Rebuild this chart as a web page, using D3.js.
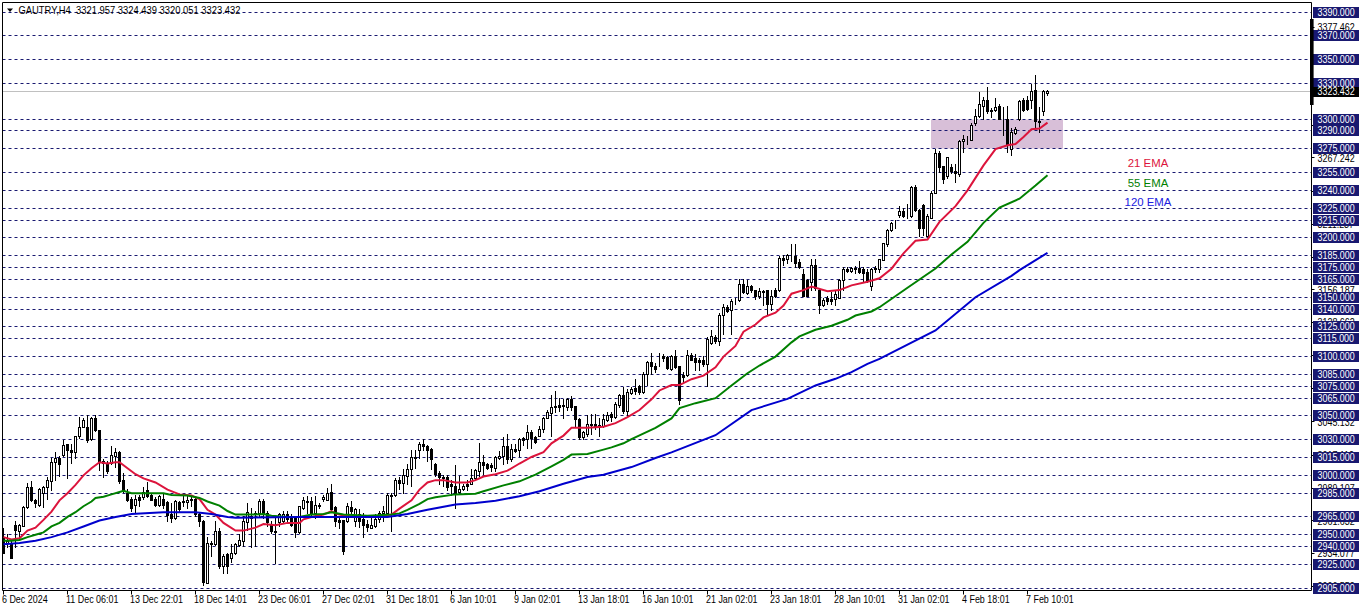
<!DOCTYPE html>
<html><head><meta charset="utf-8">
<script src="https://cdnjs.cloudflare.com/ajax/libs/d3/7.8.5/d3.min.js"></script>
<style>html,body{margin:0;padding:0;background:#fff;overflow:hidden}svg{display:block}text{font-family:"Liberation Sans",Arial,sans-serif}</style>
</head><body><svg id="c" width="1362" height="611"></svg>
<script>
const title = "GAUTRY,H4  3321.957 3324.439 3320.051 3323.432";
const timeLabels = ["6 Dec 2024","11 Dec 06:01","13 Dec 22:01","18 Dec 14:01","23 Dec 06:01","27 Dec 02:01","31 Dec 18:01","6 Jan 10:01","9 Jan 02:01","13 Jan 18:01","16 Jan 10:01","21 Jan 02:01","23 Jan 18:01","28 Jan 10:01","31 Jan 02:01","4 Feb 18:01","7 Feb 10:01"];
const levels = [3390,3370,3350,3330,3300,3290,3275,3255,3240,3225,3215,3200,3185,3175,3165,3150,3140,3125,3115,3100,3085,3075,3065,3050,3030,3015,3000,2985,2965,2950,2940,2925,2905];
const axisTicks = [3377.462,3349.912,3322.352,3294.802,3267.242,3239.232,3211.237,3183.702,3156.187,3128.662,3100.657,3073.132,3045.132,3017.112,2989.107,2961.632,2934.077,2906.552];
const lastPrice = 3323.432;
const zoneLow = 3275, zoneHigh = 3300;
const zoneBars = [232, 265];
const emaLabels = ["21 EMA","55 EMA","120 EMA"];
const emaLabelPrices = [3263,3246.2,3229.8];
const opens = [2947,2943,2943,2958,2953,2957,2973,2990,2979,2975,
2985,2990,2995,3011,3014,3017,3026,3021,3019,3033,
3040,3040,3030,3048,3038,3012,3009,3010,3016,3019,
2996,2985,2980,2975,2981,2981,2987,2983,2980,2975,
2980,2977,2967,2964,2977,2977,2977,2979,2980,2967,
2961,2909,2942,2942,2953,2923,2933,2930,2934,2941,
2944,2960,2964,2967,2968,2978,2968,2958,2953,2960,
2961,2967,2964,2964,2952,2972,2978,2978,2968,2975,
2980,2979,2986,2973,2962,2962,2961,2973,2961,2967,
2963,2959,2955,2957,2963,2968,2968,2983,2983,2996,
2993,2999,3005,3015,3021,3026,3024,3022,3009,3002,
2998,2998,2992,2991,2986,2988,2992,2992,2997,3003,
3011,3009,3008,3006,3014,3016,3024,3013,3022,3021,
3031,3030,3036,3032,3033,3039,3048,3052,3058,3059,
3059,3057,3064,3058,3047,3032,3034,3043,3043,3042,
3041,3046,3051,3049,3059,3067,3054,3069,3073,3075,
3070,3085,3095,3092,3100,3100,3099,3089,3100,3092,
3084,3084,3101,3098,3097,3097,3093,3111,3116,3113,
3135,3141,3139,3147,3147,3161,3153,3159,3156,3151,
3155,3156,3144,3156,3156,3183,3182,3185,3184,3179,
3169,3164,3162,3177,3156,3143,3149,3148,3148,3149,
3164,3173,3172,3174,3174,3173,3171,3159,3174,3173,
3181,3194,3206,3212,3219,3222,3219,3218,3242,3223,
3227,3201,3216,3237,3271,3260,3252,3259,3256,3253,
3281,3282,3282,3296,3302,3311,3316,3307,3307,3311,
3300,3300,3274,3288,3300,3316,3316,3316,3324,3298,
3306,3321.957];
const highs = [2955,2950,2946,2961,2959,2974,2993,2995,2980,2989,
2991,2998,3014,3019,3016,3029,3026,3026,3033,3049,
3048,3050,3049,3050,3038,3013,3012,3024,3023,3020,
3002,2988,2981,2983,2983,2990,2994,2984,2981,2983,
2985,2978,2976,2979,2978,2982,2982,2982,2982,2968,
2962,2948,2944,2961,2955,2933,2934,2942,2943,2950,
2965,2976,2972,2970,2980,2980,2970,2961,2964,2968,
2970,2970,2967,2965,2974,2981,2982,2981,2982,2976,
2983,2989,2992,2974,2965,2962,2976,2978,2972,2971,
2968,2962,2965,2967,2970,2974,2985,2985,2997,2998,
3005,3009,3021,3021,3028,3030,3025,3023,3010,3003,
3000,3000,2996,3008,2999,2992,2996,3005,3005,3027,
3017,3010,3010,3016,3020,3032,3034,3026,3026,3031,
3032,3042,3038,3033,3041,3049,3055,3067,3071,3065,
3064,3065,3066,3058,3048,3037,3050,3051,3051,3048,
3051,3053,3053,3061,3068,3074,3072,3074,3081,3076,
3087,3096,3103,3094,3103,3102,3100,3101,3105,3092,
3087,3105,3103,3102,3098,3100,3116,3122,3118,3136,
3144,3143,3148,3149,3165,3165,3164,3160,3156,3157,
3156,3156,3156,3157,3184,3185,3186,3194,3194,3182,
3173,3165,3182,3182,3157,3149,3151,3154,3156,3165,
3175,3175,3175,3176,3180,3175,3173,3174,3176,3182,
3195,3207,3213,3215,3226,3225,3228,3243,3244,3224,
3228,3220,3239,3274,3273,3260,3268,3262,3262,3282,
3286,3285,3296,3308,3322,3318,3327,3309,3317,3312,
3310,3311,3292,3293,3316,3317,3319,3329,3337,3310,
3324,3324.439];
const lows = [2934,2939,2930,2939,2946,2957,2972,2978,2973,2974,
2973,2980,2987,2996,2999,3016,2997,3010,3014,3031,
3040,3028,3029,3037,3004,2998,3002,3009,3007,2993,
2986,2978,2970,2969,2974,2980,2981,2979,2974,2974,
2972,2961,2960,2963,2969,2974,2972,2974,2965,2957,
2907,2909,2932,2941,2922,2917,2917,2927,2933,2940,
2940,2954,2939,2940,2965,2964,2957,2951,2926,2957,
2960,2960,2957,2948,2951,2971,2968,2965,2964,2972,
2978,2979,2969,2957,2955,2933,2960,2967,2957,2956,
2948,2953,2955,2956,2960,2961,2967,2953,2982,2988,
2985,2992,2991,3006,3014,3021,3012,3005,2999,2992,
2991,2987,2983,2972,2985,2987,2987,2992,2996,2999,
3001,3005,3003,3003,3013,3009,3010,3012,3019,3016,
3025,3023,3023,3027,3033,3036,3048,3033,3053,3054,
3048,3055,3055,3041,3030,3030,3033,3034,3039,3033,
3040,3045,3045,3048,3057,3052,3049,3068,3068,3068,
3069,3076,3085,3087,3092,3096,3089,3088,3090,3060,
3078,3083,3097,3088,3088,3092,3075,3110,3111,3109,
3119,3137,3119,3144,3146,3153,3152,3154,3148,3149,
3143,3135,3139,3150,3155,3177,3178,3180,3175,3174,
3151,3151,3156,3156,3136,3142,3144,3144,3143,3149,
3156,3171,3171,3170,3170,3162,3162,3156,3171,3171,
3181,3193,3205,3208,3217,3217,3216,3217,3222,3201,
3202,3201,3216,3237,3255,3246,3250,3254,3247,3252,
3272,3279,3282,3295,3301,3300,3305,3301,3306,3300,
3286,3272,3269,3287,3299,3306,3307,3309,3293,3289,
3303,3320.051];
const closes = [2934,2944,2930,2954,2958,2973,2990,2979,2976,2988,
2990,2996,3011,3014,3009,3025,3021,3019,3033,3040,
3046,3029,3048,3038,3012,3010,3003,3017,3019,2995,
2987,2979,2972,2980,2979,2986,2982,2979,2975,2982,
2975,2966,2964,2978,2971,2978,2979,2980,2967,2961,
2910,2943,2943,2953,2923,2932,2923,2934,2942,2945,
2961,2969,2965,2968,2978,2968,2960,2953,2952,2967,
2967,2963,2958,2952,2974,2979,2977,2967,2975,2974,
2981,2985,2971,2961,2960,2936,2974,2970,2971,2961,
2958,2956,2958,2963,2968,2970,2983,2982,2996,2993,
3000,3005,3015,3014,3026,3024,3021,3013,3001,2998,
2997,2990,2991,2985,2988,2991,2991,2997,3004,3011,
3008,3006,3007,3015,3016,3024,3013,3022,3020,3030,
3029,3036,3031,3028,3039,3048,3053,3057,3057,3057,
3058,3064,3057,3047,3032,3036,3043,3042,3041,3040,
3047,3050,3049,3060,3067,3054,3070,3072,3071,3070,
3085,3095,3092,3089,3100,3098,3090,3100,3091,3063,
3082,3101,3097,3095,3095,3093,3114,3117,3113,3135,
3141,3138,3146,3147,3161,3154,3159,3156,3151,3155,
3154,3144,3151,3151,3183,3181,3185,3185,3178,3175,
3151,3151,3177,3157,3143,3147,3146,3146,3152,3164,
3173,3172,3174,3173,3171,3170,3163,3173,3173,3182,
3195,3206,3212,3212,3222,3218,3219,3242,3223,3208,
3208,3218,3237,3271,3259,3249,3268,3256,3254,3281,
3283,3282,3295,3302,3312,3316,3306,3306,3310,3300,
3300,3278,3289,3291,3315,3307,3308,3323,3298,3297,
3323,3323.432];
const ema21Bars = [0,2,4,6,8,10,12,14,16,18,20,22,24,26,28,29,31,33,35,38,41,44,47,49,51,53,55,58,60,63,65,68,71,74,75,77,80,82,83,85,89,93,97,99,102,104,106,108,110,113,116,118,120,123,126,129,132,135,137,140,142,146,150,153,156,159,162,164,167,169,172,175,178,180,183,185,188,190,193,195,197,200,202,206,209,212,216,219,222,225,228,231,234,238,241,245,248,251,253,255,257,259,261];
const ema21Values = [2948,2946,2947,2953.5,2956,2962.5,2969.5,2979,2985,2992,3000,3006,3011,3010,3011,3011,3006,3001,2997.5,2994,2988,2984,2983,2980,2971,2967,2960,2953.5,2953.5,2956,2959,2958,2960,2960,2963,2965,2967,2970,2968,2966,2965,2965,2967,2972,2979,2988,2994,2996,2996,2994,2994,2996,2999,3001,3004,3010,3015.5,3019.5,3027,3033.5,3040,3040,3041,3044,3049,3055,3064,3071.5,3076,3076,3081,3084,3091,3100,3109,3121,3127,3133,3137,3143,3153,3156,3159,3155,3156,3160,3163,3166,3174,3187,3197.5,3198.6,3213.5,3226.7,3240,3261,3274.7,3278,3279,3285,3291.5,3292,3297];
const ema55Bars = [0,2,4,6,8,10,12,14,16,18,20,22,23,25,27,29,30,32,36,40,42,46,49,51,54,56,58,63,65,67,71,74,77,80,82,85,91,97,99,101,104,106,108,113,118,120,125,129,133,137,140,142,146,150,152,155,157,159,163,167,169,173,178,182,186,189,193,197,199,203,207,211,213,217,219,226,233,237,241,245,249,254,258,261];
const ema55Values = [2945,2945,2945.6,2948,2950,2952,2957,2960,2965,2969,2974,2978,2981,2982,2984,2986,2987,2985,2985,2985,2983.5,2983,2981,2978,2974.5,2970,2967,2967,2967.5,2966,2965,2965,2967,2967.5,2969,2967,2966,2967,2968,2971,2976,2980,2981.5,2984,2984.6,2986.6,2991.6,2995,3000.6,3007.6,3013,3017.5,3018,3021.7,3023.6,3027,3030.6,3033.7,3040,3048,3056.6,3060.8,3065,3075.7,3086,3092.5,3100,3112,3117,3122.6,3126,3131,3134.6,3138,3141.6,3158,3174.2,3186,3196.6,3212.6,3225.5,3233,3244,3252.8];
const ema120Bars = [0,4,8,12,16,20,24,28,32,40,48,52,56,58,74,96,101,106,113,118,123,129,134,140,146,150,157,163,167,178,187,196,203,208,212,216,219,233,243,252,254,261];
const ema120Values = [2942,2943,2945,2948,2952,2957,2962,2965,2967.5,2969,2969,2967.5,2965,2964.4,2965,2965,2967.5,2971,2975.4,2976.8,2978.7,2982.4,2986.6,2993,2998.6,3000.6,3007,3014.6,3019.4,3033.8,3055,3064.4,3075.7,3081.3,3086.9,3093.9,3098.1,3122,3150,3168,3172.8,3187.4];
const emaColors = ["#dc143c","#008000","#0000cd"];
const emaLabelColors = ["#dc143c","#008000","#2020e0"];

const svg = d3.select("#c");
const x = d3.scaleLinear().domain([0,261]).range([3.5,1047.5]);
const y = d3.scaleLinear().domain([2905,3390]).range([588.2,12.2]);
const crisp = v => Math.floor(v)+0.5;
const L = 2.5, R = 1311.5, B = 590.5, T = 2.5;
const TEXT_SX = 0.85, FS = 10.5;

// highlighted zone
svg.append("rect").attr("x",x(zoneBars[0])-0.5).attr("width",x(zoneBars[1])-x(zoneBars[0]))
  .attr("y",crisp(y(zoneHigh))).attr("height",crisp(y(zoneLow))-crisp(y(zoneHigh))).attr("fill","#d8bfd8");

// current price line
svg.append("line").attr("x1",L).attr("x2",R).attr("y1",crisp(y(lastPrice))).attr("y2",crisp(y(lastPrice))).attr("stroke","#c0c0c0");

// dashed levels
svg.append("g").selectAll("line").data(levels).join("line")
  .attr("x1",L).attr("x2",R).attr("y1",d=>crisp(y(d))).attr("y2",d=>crisp(y(d)))
  .attr("stroke","#191970").attr("stroke-dasharray","3,3").attr("stroke-width",1);

// candles
const bars = d3.range(opens.length);
const g = svg.append("g");
g.selectAll("line").data(bars).join("line")
  .attr("x1",d=>x(d)).attr("x2",d=>x(d)).attr("y1",d=>Math.floor(y(highs[d]))).attr("y2",d=>Math.floor(y(lows[d]))+1)
  .attr("stroke","#000").attr("stroke-width",1);
g.selectAll("rect").data(bars).join("rect")
  .attr("x",d=>x(d)-1).attr("width",2)
  .attr("y",d=>crisp(y(Math.max(opens[d],closes[d]))))
  .attr("height",d=>Math.max(0,crisp(y(Math.min(opens[d],closes[d])))-crisp(y(Math.max(opens[d],closes[d])))))
  .attr("fill",d=>closes[d]>=opens[d]?"#fff":"#000").attr("stroke","#000").attr("stroke-width",1);

// moving averages
const lineGen = d3.line().x(d=>x(d[0])).y(d=>y(d[1]));
[[ema21Bars,ema21Values],[ema55Bars,ema55Values],[ema120Bars,ema120Values]].forEach((s,i)=>{
  svg.append("path").attr("d",lineGen(d3.zip(s[0],s[1]))).attr("fill","none").attr("stroke",emaColors[i]).attr("stroke-width",2);
});

// frame
svg.append("path").attr("d",`M${L},${T}H${R}V${B}H${L}Z`).attr("fill","none").attr("stroke","#000");

// right axis ticks + black labels (drawn below level labels)
svg.append("g").selectAll("line").data(axisTicks).join("line")
  .attr("x1",R).attr("x2",R+3).attr("y1",d=>crisp(y(d))).attr("y2",d=>crisp(y(d))).attr("stroke","#000");
const priceText = (sel,fill,yf)=>sel.attr("transform",(d,i)=>`translate(1317.5,${yf(d)+3.8}) scale(${TEXT_SX},1)`).attr("font-size",FS).attr("fill",fill);
priceText(svg.append("g").selectAll("text").data(axisTicks).join("text").text(d=>d3.format(".3f")(d)),"#000",d=>y(d));

// level labels
const lab = svg.append("g").selectAll("g").data(levels).join("g");
lab.append("rect").attr("x",1313).attr("width",46).attr("y",d=>Math.floor(y(d))-5).attr("height",11).attr("fill","#191970");
priceText(lab.append("text").text(d=>d3.format(".3f")(d)),"#fff",d=>Math.floor(y(d)));

// last price label
svg.append("rect").attr("x",1313).attr("width",46).attr("y",Math.floor(y(lastPrice))-4).attr("height",10).attr("fill","#000");
priceText(svg.append("text").datum(lastPrice).text(d3.format(".3f")(lastPrice)),"#fff",d=>Math.floor(y(d))+0.4);

// price marker bar on the axis
svg.append("rect").attr("x",1310).attr("width",3.6).attr("y",19).attr("height",86).attr("fill","#000");

// time axis
const tg = svg.append("g").selectAll("g").data(timeLabels).join("g");
tg.append("line").attr("x1",(d,i)=>x(i*16)).attr("x2",(d,i)=>x(i*16)).attr("y1",B).attr("y2",B+4).attr("stroke","#000");
tg.append("text").attr("transform",(d,i)=>`translate(${x(i*16)-1.5},603) scale(${TEXT_SX},1)`).attr("font-size",FS).attr("fill","#000").text(d=>d);

// title
svg.append("path").attr("d","M7,8.5H13L10,12Z").attr("fill","#000");
svg.append("text").attr("transform","translate(18.5,14) scale(0.895,1)").attr("font-size",FS).attr("fill","#000").attr("xml:space","preserve").text(title);

// EMA labels
svg.append("g").selectAll("text").data(emaLabels).join("text")
  .attr("x",1148).attr("y",(d,i)=>y(emaLabelPrices[i])+4).attr("text-anchor","middle")
  .attr("font-size",11.4).attr("fill",(d,i)=>emaLabelColors[i]).text(d=>d);
</script></body></html>
